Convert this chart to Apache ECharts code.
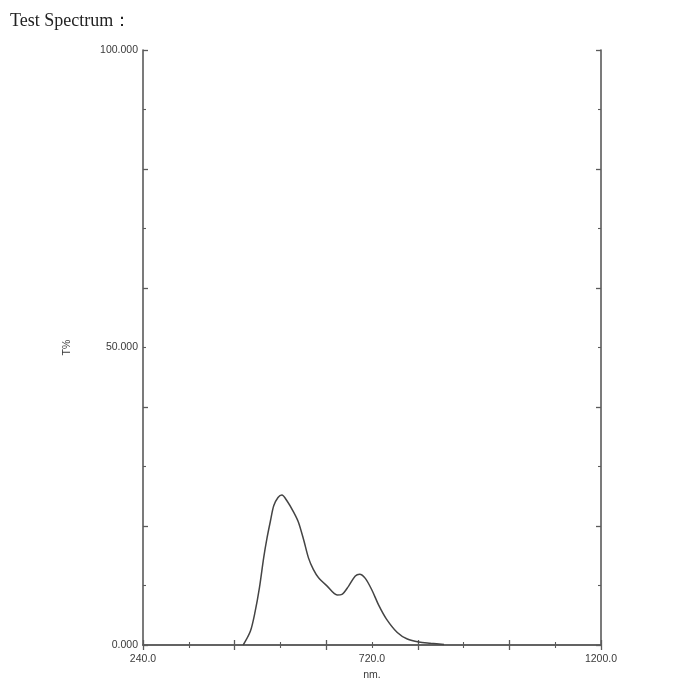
<!DOCTYPE html>
<html>
<head>
<meta charset="utf-8">
<script src="https://cdn.jsdelivr.net/npm/echarts@6/dist/echarts.min.js"></script>
<style>html,body{margin:0;padding:0;background:#fff}#c{width:700px;height:700px}</style>
</head>
<body>
<div id="c"></div>
<script>
const wavelengths = [450, 465, 475, 484, 493, 500, 507, 514, 523, 531, 542, 556, 566, 577, 587, 597, 608, 626, 647, 657, 671, 685, 694, 706, 720, 734, 750, 773, 794, 818, 843, 871];
const transmittance = [0.0, 2.3, 5.6, 9.6, 14.7, 18.0, 20.8, 23.4, 24.8, 25.2, 24.2, 22.3, 20.6, 17.6, 14.6, 12.7, 11.3, 9.9, 8.4, 8.5, 9.9, 11.6, 11.9, 11.2, 9.2, 6.7, 4.4, 2.1, 1.0, 0.5, 0.3, 0.1];
const xLabelValues = [240, 720, 1200];
const yLabelValues = [0, 50, 100];
const titleText = 'Test Spectrum：';
const xName = 'nm.';
const yName = 'T%';

const axisColor = '#5a5a5a';
const labelStyle = {fontFamily: 'Liberation Sans', fontSize: 10.5, color: '#3a3a3a'};
const lineStyle = {color: axisColor, width: 1.6};

function xAx(pos, showLabel) {
  return {
    type: 'value', position: pos, min: 240, max: 1200, interval: 192,
    axisLine: {show: true, lineStyle: lineStyle},
    axisTick: {show: true, inside: true, length: 5, lineStyle: {color: axisColor, width: 1.3}},
    minorTick: {show: true, splitNumber: 2, length: 3, lineStyle: {color: axisColor, width: 1.1}},
    splitLine: {show: false}, minorSplitLine: {show: false},
    axisLabel: showLabel ? Object.assign({show: true, margin: 9, customValues: xLabelValues, formatter: v => v.toFixed(1)}, labelStyle) : {show: false},
    name: showLabel ? xName : '', nameLocation: 'middle', nameGap: 23,
    nameTextStyle: labelStyle
  };
}
function yAx(pos, showLabel) {
  return {
    type: 'value', position: pos, min: 0, max: 100, interval: 20,
    axisLine: {show: true, lineStyle: lineStyle},
    axisTick: {show: true, inside: true, length: 5, lineStyle: {color: axisColor, width: 1.3}},
    minorTick: {show: true, splitNumber: 2, length: 3, lineStyle: {color: axisColor, width: 1.1}},
    splitLine: {show: false}, minorSplitLine: {show: false},
    axisLabel: showLabel ? Object.assign({show: true, margin: 5, customValues: yLabelValues, formatter: v => v.toFixed(3)}, labelStyle) : {show: false},
    name: showLabel ? yName : '', nameLocation: 'middle', nameGap: 70, nameTextStyle: labelStyle
  };
}

const chart = echarts.init(document.getElementById('c'), null, {renderer: 'canvas'});
chart.setOption({
  animation: false,
  backgroundColor: '#fff',
  title: {text: titleText, left: 5, top: 7, textStyle: {fontFamily: 'Liberation Serif', fontSize: 18, fontWeight: 'normal', color: '#222'}},
  grid: {left: 143, right: 99, top: 50, bottom: 55, containLabel: false},
  xAxis: [xAx('bottom', true), xAx('top', false)],
  yAxis: [yAx('left', true), yAx('right', false)],
  series: [{
    type: 'line',
    data: wavelengths.map((w, i) => [w, transmittance[i]]),
    smooth: 0.3,
    showSymbol: false,
    lineStyle: {color: '#444', width: 1.5}
  }]
});
</script>
</body>
</html>
